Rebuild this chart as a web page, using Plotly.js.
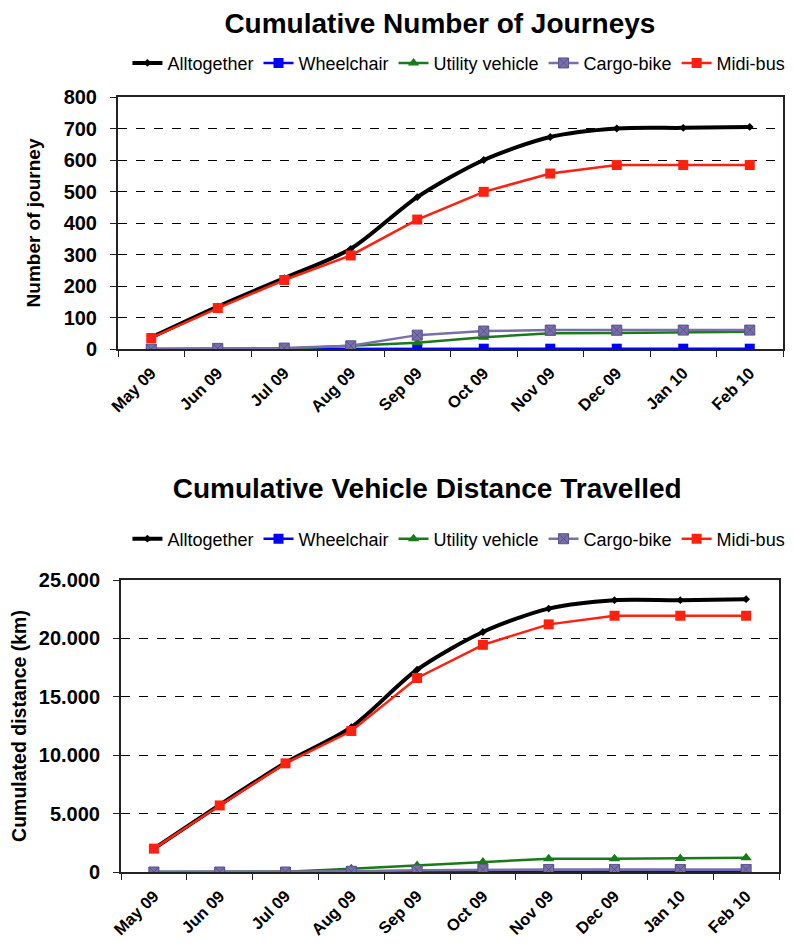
<!DOCTYPE html>
<html>
<head>
<meta charset="utf-8">
<script src="https://cdn.plot.ly/plotly-3.0.1.min.js"></script>
<style>
  body { margin: 0; padding: 0; background: #fff; }
  #journeys, #distance { width: 794px; height: 472px; }
</style>
</head>
<body>
<div id="journeys"></div>
<div id="distance"></div>
<script>
// Months shown on the category axis
const months = ["May 09", "Jun 09", "Jul 09", "Aug 09", "Sep 09", "Oct 09", "Nov 09", "Dec 09", "Jan 10", "Feb 10"];

// Cumulative number of journeys per vehicle type
const journeysAll = [37, 135, 225, 318, 482, 600, 673, 700, 702, 705];
const journeysWheelchair = [0, 0, 0, 0, 1, 1, 1, 1, 1, 1];
const journeysUtility = [0, 0, 1, 10, 20, 37, 50, 51, 52, 55];
const journeysCargo = [0, 2, 3, 10, 44, 57, 60, 60, 60, 60];
const journeysMidi = [35, 130, 219, 297, 411, 499, 557, 584, 584, 584];

// Cumulative distance travelled (km) per vehicle type
const distAll = [2000, 5750, 9350, 12400, 17320, 20550, 22550, 23270, 23270, 23360];
const distWheelchair = [0, 0, 0, 10, 20, 30, 40, 40, 40, 40];
const distUtility = [0, 0, 30, 280, 560, 860, 1130, 1130, 1150, 1230];
const distCargo = [0, 0, 0, 60, 150, 200, 220, 220, 220, 220];
const distMidi = [2000, 5700, 9300, 12070, 16610, 19450, 21200, 21940, 21940, 21940];

const names = ["Alltogether", "Wheelchair", "Utility vehicle", "Cargo-bike", "Midi-bus"];
const colors = ["#000000", "#0000FF", "#1A7A1A", "#7A70A8", "#FF2010"];
const symbols = ["diamond", "square", "triangle-up", "square-x", "square"];
const sizes = [6, 10, 10, 10, 10];
const widths = [4, 2.5, 2.5, 2.5, 2.5];

const boldFont = "Liberation Sans, Arial, sans-serif";

// Series are drawn in order, so the Midi-bus line ends up on top
function makeTraces(series) {
  return series.map((ys, i) => ({
    type: "scatter",
    mode: "lines+markers",
    name: names[i],
    x: months,
    y: ys,
    line: { color: colors[i], width: widths[i], shape: i === 0 ? "spline" : "linear", smoothing: 0.8 },
    marker: {
      symbol: symbols[i], size: sizes[i], color: colors[i],
      line: { color: i === 3 ? "#5A5090" : colors[i], width: i === 3 ? 1 : 0 }
    }
  }));
}

function makeLayout(opts) {
  return {
    width: 794, height: 472,
    paper_bgcolor: "#fff", plot_bgcolor: "#fff",
    margin: opts.margin,
    showlegend: true,
    legend: {
      orientation: "h", x: opts.legendX, xanchor: "center", xref: "container",
      y: opts.legendY, yanchor: "middle", yref: "container",
      font: { family: boldFont, size: 18, color: "#000" },
      itemwidth: 30
    },
    title: {
      text: opts.title, x: opts.titleX, xanchor: "center", xref: "container",
      y: opts.titleY, yanchor: "middle", yref: "container",
      font: { family: boldFont, size: 28, color: "#000", weight: "bold" }
    },
    xaxis: {
      type: "category", range: [-0.5, 9.5],
      tickangle: -45, tickson: "boundaries", ticks: "outside", ticklen: 6, tickcolor: "#222",
      ticklabelstandoff: 6,
      tickfont: { family: boldFont, size: 16.5, color: "#000", weight: "bold" },
      showline: true, linecolor: "#222", linewidth: 2, mirror: true,
      showgrid: false, zeroline: false, fixedrange: true
    },
    yaxis: {
      range: opts.yRange, tickvals: opts.tickvals, ticktext: opts.ticktext,
      ticks: "outside", ticklen: 6, tickcolor: "#222",
      ticklabelstandoff: 9,
      tickfont: { family: boldFont, size: 20, color: "#000", weight: "bold" },
      title: { text: opts.yTitle, font: { family: boldFont, size: opts.yTitleSize, color: "#000", weight: "bold" }, standoff: opts.standoff },
      showline: true, linecolor: "#222", linewidth: 2, mirror: true,
      showgrid: true, gridcolor: "#000", griddash: "dash", gridwidth: 1,
      zeroline: false, fixedrange: true
    }
  };
}

const journeyTicks = [0, 100, 200, 300, 400, 500, 600, 700, 800];
Plotly.newPlot("journeys",
  makeTraces([journeysAll, journeysWheelchair, journeysUtility, journeysCargo, journeysMidi]),
  makeLayout({
    title: "Cumulative Number of Journeys",
    titleX: 0.554, titleY: 0.951,
    legendX: 0.578, legendY: 0.866,
    margin: { l: 118, r: 11, t: 97, b: 123 },
    yRange: [0, 800], tickvals: journeyTicks, ticktext: journeyTicks.map(String),
    yTitle: "Number of journey", yTitleSize: 19, standoff: 18
  }),
  { displayModeBar: false, staticPlot: true }
);

const distTicks = [0, 5000, 10000, 15000, 20000, 25000];
const distLabels = ["0", "5.000", "10.000", "15.000", "20.000", "25.000"];
Plotly.newPlot("distance",
  makeTraces([distAll, distWheelchair, distUtility, distCargo, distMidi]),
  makeLayout({
    title: "Cumulative Vehicle Distance Travelled",
    titleX: 0.538, titleY: 0.966,
    legendX: 0.578, legendY: 0.858,
    margin: { l: 121, r: 15, t: 108, b: 72 },
    yRange: [0, 25000], tickvals: distTicks, ticktext: distLabels,
    yTitle: "Cumulated distance (km)", yTitleSize: 19.5, standoff: 7
  }),
  { displayModeBar: false, staticPlot: true }
);
</script>
</body>
</html>
